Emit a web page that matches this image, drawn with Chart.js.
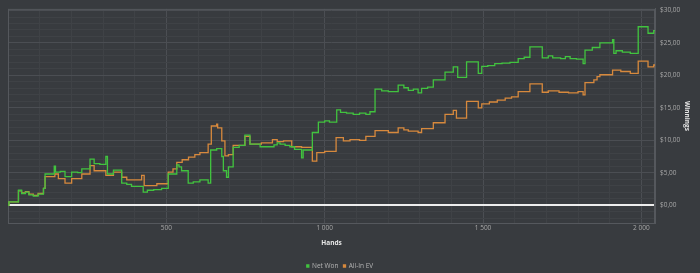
<!DOCTYPE html>
<html><head><meta charset="utf-8">
<script src="https://cdn.jsdelivr.net/npm/chart.js@4.4.1/dist/chart.umd.min.js"></script>
<style>
html,body{margin:0;padding:0;background:#383b3f;}
#wrap{width:700px;height:273px;position:relative;}
</style>
</head><body>
<div id="wrap"><canvas id="c"></canvas></div>
<script>
// [hand, cumulative winnings $]
const netWon = [[0,0],[3,0.5],[33,2.3],[43,1.8],[55,2.0],[66,1.6],[80,1.4],[95,1.7],[112,2.6],[117,4.8],
 [146,6.0],[150,5.1],[165,5.2],[180,4.4],[201,5.1],[220,5.0],[233,5.6],[259,7.1],[272,6.4],[290,6.3],
 [309,7.5],[314,4.8],[333,5.4],[359,3.4],[375,3.2],[390,2.9],[427,2.0],[440,2.3],[460,2.4],[485,2.6],
 [506,4.8],[533,6.2],[540,5.9],[548,5.3],[569,3.4],[585,3.6],[606,3.9],[632,3.4],[640,8.5],[659,8.7],
 [675,7.5],[680,5.3],[690,4.3],[696,5.9],[711,8.9],[730,9.2],[748,10.8],[764,9.4],[796,9.0],[840,9.3],
 [850,9.6],[859,9.4],[875,9.2],[890,9.0],[905,8.6],[927,7.3],[932,8.5],[961,11.2],[980,12.8],[1000,13.0],
 [1015,12.8],[1038,14.7],[1050,14.3],[1069,14.2],[1090,14.0],[1110,14.2],[1130,14.0],[1143,14.4],[1159,17.9],[1180,17.6],
 [1201,17.5],[1232,18.5],[1250,18.1],[1264,17.7],[1280,17.9],[1295,17.3],[1306,18.0],[1325,18.2],[1343,19.3],[1380,20.5],
 [1406,21.3],[1420,19.7],[1448,22.1],[1485,20.3],[1496,21.4],[1515,21.5],[1537,21.8],[1560,21.9],[1585,22.0],[1611,22.6],
 [1630,22.8],[1648,24.4],[1687,22.7],[1706,23.0],[1720,22.7],[1745,22.6],[1760,22.9],[1775,22.6],[1795,22.5],[1816,21.8],
 [1822,23.9],[1845,24.3],[1869,25.0],[1909,25.5],[1913,23.4],[1920,23.8],[1940,23.6],[1965,23.4],[1990,27.5],[2021,26.5],
 [2039,26.9],[2043,26.9]];
const allInEV = [[0,0],[3,0.5],[33,2.2],[43,1.9],[55,2.1],[66,1.7],[80,1.5],[95,1.8],[112,2.6],[117,4.4],
 [148,4.8],[159,4.1],[180,3.4],[201,4.1],[233,4.8],[259,6.1],[272,5.3],[309,4.6],[333,5.1],[359,4.3],
 [375,3.9],[422,4.6],[430,3.0],[470,3.3],[506,5.1],[521,5.6],[533,6.6],[550,7.0],[570,7.4],[590,7.8],
 [606,8.1],[632,9.4],[642,12.2],[659,12.5],[662,11.9],[675,9.9],[685,7.6],[696,7.8],[711,9.2],[748,10.6],
 [764,9.4],[800,9.6],[835,10.1],[850,9.8],[870,9.9],[896,9.0],[927,8.9],[961,6.8],[975,8.1],[1000,8.3],
 [1036,10.4],[1059,9.9],[1080,10.1],[1110,10.0],[1130,10.6],[1159,11.5],[1201,11.2],[1232,11.9],[1250,11.6],[1264,11.4],
 [1295,11.2],[1306,11.8],[1343,12.7],[1380,14.0],[1406,14.6],[1416,13.4],[1448,16.0],[1485,15.0],[1496,15.6],[1520,15.9],
 [1545,16.2],[1570,16.5],[1590,16.7],[1611,17.5],[1648,18.7],[1687,17.4],[1706,17.6],[1740,17.4],[1770,17.3],[1800,17.5],
 [1816,17.0],[1822,18.9],[1850,19.3],[1860,19.8],[1869,20.1],[1909,20.8],[1935,20.6],[1965,20.3],[1990,22.2],[2021,21.3],
 [2039,21.6],[2043,21.6]];
const seriesNames = ['Net Won', 'All-In EV'];
const xMajorTicks = [500, 1000, 1500, 2000];
const xTickLabels = ['500', '1 000', '1 500', '2 000'];
const yMajorTicks = [0, 5, 10, 15, 20, 25, 30];
const yTickLabels = ['$0,00', '$5,00', '$10,00', '$15,00', '$20,00', '$25,00', '$30,00'];
const yAxisTitle = 'Winnings';
const xAxisTitle = 'Hands';

const GRID_MAJOR = '#4b4e53';
const GRID_MINOR = '#3f4246';
const GREEN = '#41c33f';
const ORANGE = '#d7893d';
const FONT = "'Open Sans', 'DejaVu Sans', sans-serif";

Chart.defaults.font.family = FONT;

const framePlugin = {
  id: 'frame',
  afterLayout(chart) {
    // legend in the reference sits slightly left of the canvas centre
    if (chart.legend) { chart.legend.right -= 28; }
  },
  beforeDatasetsDraw(chart) {
    const a = chart.chartArea, ctx = chart.ctx;
    ctx.save();
    ctx.strokeStyle = '#55585d';
    ctx.lineWidth = 1;
    ctx.strokeRect(a.left + 0.5, a.top + 0.5, a.right - a.left - 1, a.bottom - a.top);
    ctx.restore();
  },
  afterDraw(chart) {
    const a = chart.chartArea, ctx = chart.ctx;
    ctx.save();
    ctx.fillStyle = '#e6e6e6';
    ctx.font = 'bold 6.5px ' + FONT;
    ctx.textAlign = 'center';
    ctx.textBaseline = 'middle';
    ctx.translate(687, (a.top + a.bottom) / 2);
    ctx.rotate(Math.PI / 2);
    ctx.fillText(yAxisTitle, 0, 0);
    ctx.restore();
  }
};

new Chart(document.getElementById('c'), {
  type: 'line',
  data: {
    datasets: [
      { label: seriesNames[0], data: netWon.map(p => ({x: p[0], y: p[1]})), borderColor: GREEN, backgroundColor: GREEN,
        borderWidth: 1.3, stepped: true, pointRadius: 0, fill: false },
      { label: seriesNames[1], data: allInEV.map(p => ({x: p[0], y: p[1]})), borderColor: ORANGE, backgroundColor: ORANGE,
        borderWidth: 1.3, stepped: true, pointRadius: 0, fill: false }
    ]
  },
  options: {
    responsive: true, maintainAspectRatio: false, animation: false,
    layout: { padding: { left: 8, top: 7, right: 0, bottom: 0 } },
    plugins: {
      tooltip: { enabled: false },
      legend: {
        position: 'bottom', maxHeight: 15.25,
        labels: { boxWidth: 2, boxHeight: 2, padding: 5, color: '#b4b4b4', font: { size: 6.5 } }
      }
    },
    scales: {
      x: {
        type: 'linear', min: 0, max: 2043,
        afterBuildTicks: s => { const t = []; for (let v = 0; v <= 2000; v += 100) t.push({value: v}); s.ticks = t; },
        afterFit: s => { s.height = 34.75; },
        ticks: { autoSkip: false, maxRotation: 0, padding: 1, color: '#a8a8a8', font: { size: 6.5 },
          callback: v => { const i = xMajorTicks.indexOf(v); return i >= 0 ? xTickLabels[i] : ''; } },
        grid: { drawTicks: false, color: c => (c.tick && c.tick.value % 500 === 0) ? GRID_MAJOR : GRID_MINOR },
        border: { display: true, color: '#55585d' },
        title: { display: true, text: xAxisTitle, color: '#e6e6e6', font: { size: 6.5, weight: 'bold' }, padding: { top: 0, bottom: 10.85 } }
      },
      y: {
        position: 'right', min: -2.75, max: 30.25,
        afterBuildTicks: s => { const t = []; for (let v = -2; v <= 30; v += 1) t.push({value: v}); s.ticks = t; },
        afterFit: s => { s.width = 45; },
        ticks: { autoSkip: false, padding: 5, color: '#a8a8a8', font: { size: 6.5 },
          callback: v => { const i = yMajorTicks.indexOf(v); return i >= 0 ? yTickLabels[i] : ''; } },
        grid: { drawTicks: false,
          color: c => { const v = c.tick ? c.tick.value : 1; return v === 0 ? '#ededed' : (v % 5 === 0 ? GRID_MAJOR : GRID_MINOR); },
          lineWidth: c => (c.tick && c.tick.value === 0) ? 2 : 1 },
        border: { display: true, color: '#55585d' }
      }
    }
  },
  plugins: [framePlugin]
});
</script>
</body></html>
